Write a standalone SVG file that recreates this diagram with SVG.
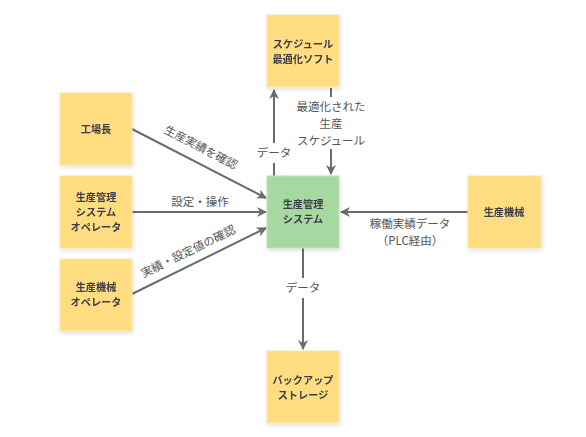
<svg xmlns="http://www.w3.org/2000/svg" width="586" height="437" viewBox="0 0 586 437">
<style>
.node{fill:#FFDD80;stroke:#FBE6A6;stroke-width:1}
.center{fill:#A6D8A2;stroke:#BFE3BA;stroke-width:1}
.nt{font-family:"Noto Sans CJK JP","Noto Sans",sans-serif;font-size:10.2px;font-weight:bold;fill:#3C3C48;text-anchor:middle}
.el{font-family:"Noto Sans CJK JP","Noto Sans",sans-serif;font-size:11.5px;fill:#555;text-anchor:middle}
.edge{stroke:#6A6A72;stroke-width:2;fill:none}
</style>
<defs>
<marker id="ah" viewBox="0 0 10 10" refX="9" refY="5" markerWidth="5" markerHeight="5" orient="auto" markerUnits="strokeWidth">
<path d="M0,0 L10,5 L0,10 L3,5 Z" fill="#6A6A72"/>
</marker>
<filter id="sh" x="-10%" y="-10%" width="130%" height="130%">
<feDropShadow dx="1" dy="2" stdDeviation="2" flood-color="#000" flood-opacity="0.12"/>
</filter>
</defs>
<rect width="586" height="437" fill="#fff"/>
<g id="connectors">
<line class="edge" x1="274" y1="176" x2="274" y2="163"/>
<line class="edge" x1="274" y1="143" x2="274" y2="90" marker-end="url(#ah)"/>
<line class="edge" x1="331" y1="88" x2="331" y2="97"/>
<line class="edge" x1="331" y1="149" x2="331" y2="174" marker-end="url(#ah)"/>
<line class="edge" x1="132" y1="129" x2="266" y2="198" marker-end="url(#ah)"/>
<line class="edge" x1="132" y1="212" x2="266" y2="212" marker-end="url(#ah)"/>
<line class="edge" x1="132" y1="294" x2="266" y2="228" marker-end="url(#ah)"/>
<line class="edge" x1="468" y1="212" x2="341" y2="212" marker-end="url(#ah)"/>
<line class="edge" x1="303" y1="248" x2="303" y2="278"/>
<line class="edge" x1="303" y1="298" x2="303" y2="349" marker-end="url(#ah)"/>
<text class="el" x="274" y="157">データ</text>
<text class="el" x="331" y="111">最適化された<tspan x="331" dy="16.8">生産</tspan><tspan x="331" dy="16.8">スケジュール</tspan></text>
<text class="el" transform="translate(199,151) rotate(27.2)">生産実績を確認</text>
<text class="el" x="200" y="206">設定・操作</text>
<text class="el" transform="translate(190,255) rotate(-26)">実績・設定値の確認</text>
<text class="el" x="410" y="228">稼働実績データ<tspan x="410" dy="16.8">（PLC経由）</tspan></text>
<text class="el" x="303" y="292">データ</text>
</g>
<g id="n-schedule" filter="url(#sh)">
<rect class="node" x="267" y="15" width="72" height="72"/>
<text class="nt" x="303" y="48">スケジュール<tspan x="303" dy="14.9">最適化ソフト</tspan></text>
</g>
<g id="n-factory-manager" filter="url(#sh)">
<rect class="node" x="60" y="93" width="72" height="72"/>
<text class="nt" x="96" y="133">工場長</text>
</g>
<g id="n-system-operator" filter="url(#sh)">
<rect class="node" x="60" y="176" width="72" height="72"/>
<text class="nt" x="96" y="201">生産管理<tspan x="96" dy="14.9">システム</tspan><tspan x="96" dy="14.9">オペレータ</tspan></text>
</g>
<g id="n-machine-operator" filter="url(#sh)">
<rect class="node" x="60" y="259" width="72" height="72"/>
<text class="nt" x="96" y="291">生産機械<tspan x="96" dy="14.9">オペレータ</tspan></text>
</g>
<g id="n-center" filter="url(#sh)">
<rect class="center" x="267" y="176" width="72" height="72"/>
<text class="nt" x="303" y="208">生産管理<tspan x="303" dy="14.9">システム</tspan></text>
</g>
<g id="n-machine" filter="url(#sh)">
<rect class="node" x="468" y="176" width="73" height="72"/>
<text class="nt" x="504" y="216">生産機械</text>
</g>
<g id="n-backup" filter="url(#sh)">
<rect class="node" x="267" y="351" width="72" height="72"/>
<text class="nt" x="303" y="384">バックアップ<tspan x="303" dy="14.9">ストレージ</tspan></text>
</g>
</svg>
